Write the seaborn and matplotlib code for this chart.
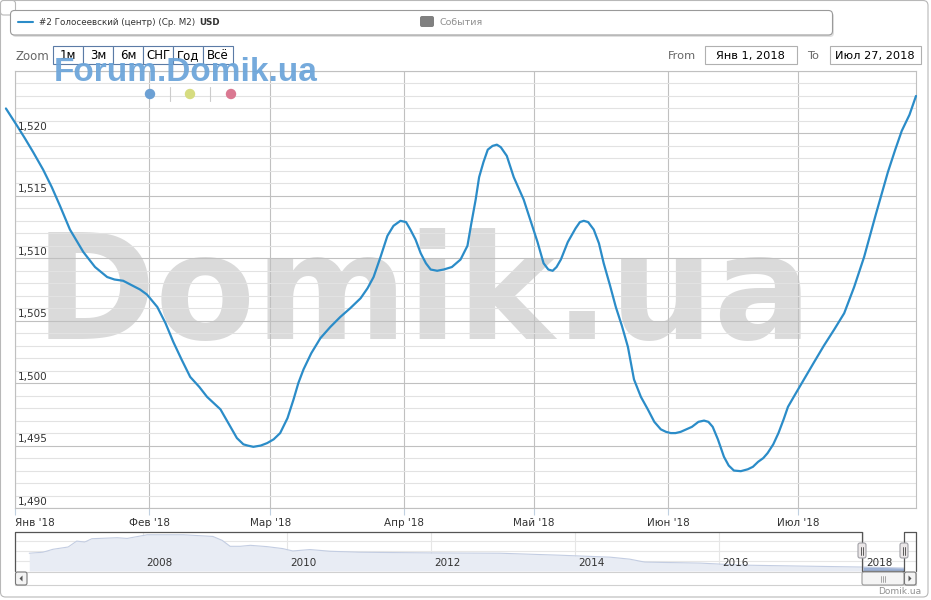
import matplotlib
matplotlib.use("Agg")
import matplotlib.pyplot as plt
import matplotlib.patches as mpatches
import matplotlib.transforms as mtransforms
from matplotlib.lines import Line2D
import numpy as np
import pandas as pd
import seaborn as sns

# days since 1 Jan 2018 and average price (USD per m2)
days = [-2.1, 0.5, 2.3, 4.2, 6.5, 8.5, 10.4, 12.7, 15.8, 18.5, 21.3, 23.0,
        25.0, 28.9, 30.5, 32.9, 34.8, 36.6, 38.5, 40.5, 42.6, 44.4, 47.5,
        49.8, 51.3, 52.8, 53.8, 55.1, 56.8, 58.3, 59.8, 61.3, 63.0, 64.4,
        65.5, 66.7, 68.5, 70.6, 72.9, 75.2, 77.5, 79.9, 81.5, 82.9, 84.5,
        86.1, 87.5, 89.1, 90.4, 91.4, 92.6, 93.8, 95.0, 96.1, 97.6, 99.1,
        101.0, 103.0, 104.6, 105.5, 106.5, 107.3, 108.3, 109.3, 110.4, 111.4,
        112.3, 113.7, 115.3, 117.6, 119.2, 120.8, 122.2, 123.3, 124.3, 125.2,
        126.2, 127.8, 129.6, 130.6, 131.5, 132.5, 133.8, 135.0, 136.1, 137.5,
        138.9, 140.3, 141.7, 143.1, 144.7, 146.3, 147.8, 149.3, 150.5, 151.6,
        152.7, 153.9, 155.2, 156.5, 158.0, 159.3, 160.3, 161.3, 162.5, 163.9,
        165.0, 166.2, 167.8, 169.4, 170.6, 171.8, 173.0, 174.0, 175.3, 176.5,
        177.7, 178.7, 180.2, 182.4, 184.6, 187.0, 189.4, 191.7, 194.0, 196.3,
        199.0, 201.8, 203.5, 205.0, 206.8, 208.3]
price = [1522.0, 1520.6, 1519.6, 1518.5, 1517.1, 1515.7, 1514.2, 1512.3,
         1510.5, 1509.3, 1508.5, 1508.3, 1508.2, 1507.5, 1507.1, 1506.1,
         1504.8, 1503.3, 1501.9, 1500.5, 1499.7, 1498.9, 1497.9, 1496.5,
         1495.6, 1495.1, 1495.0, 1494.9, 1495.0, 1495.2, 1495.5, 1496.0,
         1497.2, 1498.7, 1500.0, 1501.1, 1502.4, 1503.6, 1504.5, 1505.3,
         1506.0, 1506.8, 1507.6, 1508.5, 1510.1, 1511.8, 1512.6, 1513.0,
         1512.9, 1512.3, 1511.5, 1510.4, 1509.6, 1509.1, 1509.0, 1509.1,
         1509.3, 1509.9, 1511.0, 1512.8, 1514.7, 1516.5, 1517.7, 1518.7,
         1519.0, 1519.1, 1518.9, 1518.2, 1516.5, 1514.7, 1513.0, 1511.3,
         1509.6, 1509.1, 1509.0, 1509.3, 1509.9, 1511.3, 1512.4, 1512.9,
         1513.0, 1512.9, 1512.3, 1511.2, 1509.6, 1507.9, 1506.1, 1504.6,
         1502.9, 1500.3, 1498.9, 1497.9, 1496.9, 1496.3, 1496.1, 1496.0,
         1496.0, 1496.1, 1496.3, 1496.5, 1496.9, 1497.0, 1496.9, 1496.5,
         1495.5, 1494.1, 1493.4, 1493.0, 1492.95, 1493.1, 1493.3, 1493.7,
         1494.0, 1494.4, 1495.1, 1496.0, 1497.1, 1498.1, 1499.0, 1500.3,
         1501.6, 1503.0, 1504.3, 1505.6, 1507.7, 1510.1, 1513.5, 1516.9,
         1518.7, 1520.2, 1521.5, 1523.0]

month_labels = ["Янв '18", "Фев '18", "Мар '18", "Апр '18", "Май '18", "Июн '18", "Июл '18"]
yticks = [1490, 1495, 1500, 1505, 1510, 1515, 1520, 1525]

# navigator: whole history
nav_years = [2006.42, 2006.61, 2006.75, 2006.96, 2007.08, 2007.19, 2007.29,
             2007.64, 2007.78, 2008.06, 2008.56, 2008.97, 2009.10, 2009.21,
             2009.35, 2009.49, 2009.72, 2009.94, 2010.08, 2010.32, 2010.60,
             2011.00, 2012.00, 2012.96, 2013.79, 2014.49, 2014.76, 2014.97,
             2015.74, 2016.29, 2017.13, 2018.00, 2018.57]
nav_price = [2120, 2160, 2280, 2372, 2612, 2572, 2708, 2748, 2720, 2868, 2868,
             2800, 2640, 2400, 2400, 2440, 2388, 2308, 2212, 2268, 2200, 2160,
             2132, 2120, 2040, 1960, 1880, 1760, 1720, 1640, 1600, 1560, 1520]
nav_labels = [2008, 2010, 2012, 2014, 2016, 2018]

zoom_buttons = ["1м", "3м", "6м", "СНГ", "Год", "Всё"]
legend_text = "#2 Голосеевский (центр) (Ср. М2)"

W, H = 931, 600
LINE = "#2b8cc8"

sns.set_theme(style="white")
plt.rcParams["font.family"] = ["DejaVu Sans"]

fig = plt.figure(figsize=(W / 100, H / 100), dpi=100)
fig.patch.set_facecolor("white")
PX = mtransforms.Affine2D().scale(1 / W, -1 / H).translate(0, 1) + fig.transFigure


def box(x0, y0, x1, y1):
    return [x0 / W, 1 - y1 / H, (x1 - x0) / W, (y1 - y0) / H]


def rbox(x, y, w, h, r, **kw):
    p = mpatches.FancyBboxPatch((x, y), w, h, boxstyle=f"round,pad=0,rounding_size={r}",
                                transform=PX, **kw)
    fig.add_artist(p)
    return p


def ptext(x, y, s, **kw):
    kw.setdefault("zorder", 20)
    return fig.text(x, y, s, transform=PX, **kw)


# ---------------------- frame + legend ----------------------
rbox(0.5, 0.5, 927.5, 596.5, 5, facecolor="none", edgecolor="#b8b8b8", lw=0.8, zorder=1)
rbox(0.5, 0.5, 15, 14.5, 3, facecolor="white", edgecolor="#b8b8b8", lw=0.8, zorder=2)
rbox(12, 12.5, 822, 24.5, 4, facecolor="#000000", edgecolor="none", alpha=0.12, zorder=2)
rbox(10.5, 10.5, 822, 24.5, 4, facecolor="white", edgecolor="#9a9a9a", lw=0.8, zorder=3)
fig.add_artist(Line2D([18, 33], [22, 22], transform=PX, color=LINE, lw=1.5, zorder=4))
leg = ptext(39, 22.5, legend_text, fontsize=6.3, color="#333333", va="center")
renderer = fig.canvas.get_renderer()
leg_right = leg.get_window_extent(renderer).x1  # display px, same as image px at dpi 100
ptext(leg_right + 3.5, 22.5, "USD", fontsize=6.3, color="#333333", va="center",
      fontweight="bold")
rbox(420, 16, 14, 11, 2, facecolor="#808080", edgecolor="none", zorder=4)
ptext(439, 22.5, "События", fontsize=6.8, color="#909090", va="center")

# ---------------------- range selector ----------------------
ptext(15, 56, "Zoom", fontsize=8.5, color="#666666", va="center")
for i, lab in enumerate(zoom_buttons):
    x0 = 53 + i * 30
    fig.add_artist(mpatches.Rectangle((x0, 46), 30, 18, transform=PX, facecolor="white",
                                      edgecolor="#5b7ba6", lw=0.8, zorder=4))
    ptext(x0 + 15, 55.5, lab, fontsize=8.5, color="#000000", ha="center", va="center", zorder=5)

ptext(668, 56, "From", fontsize=8.2, color="#666666", va="center")
fig.add_artist(mpatches.Rectangle((704.5, 46), 92, 18, transform=PX, facecolor="white",
                                  edgecolor="#b0b0b0", lw=0.8, zorder=4))
ptext(750.5, 55.5, "Янв 1, 2018", fontsize=8.2, color="#000000", ha="center", va="center")
ptext(807, 56, "To", fontsize=8.2, color="#666666", va="center")
fig.add_artist(mpatches.Rectangle((829.5, 46), 91, 18, transform=PX, facecolor="white",
                                  edgecolor="#b0b0b0", lw=0.8, zorder=4))
ptext(875, 55.5, "Июл 27, 2018", fontsize=8.2, color="#000000", ha="center", va="center")

# ---------------------- main chart ----------------------
start = pd.Timestamp("2018-01-01")
df = pd.DataFrame({"date": start + pd.to_timedelta(days, unit="D"), "price": price})

ax = fig.add_axes(box(15, 71, 916, 508))
ax.set_facecolor("white")
sns.lineplot(data=df, x="date", y="price", ax=ax, color=LINE, linewidth=1.6, zorder=3)
ax.lines[-1].set_clip_on(False)
ax.lines[-1].set_solid_joinstyle("round")

ax.set_xlim(start, start + pd.Timedelta(days=208.3))
ax.set_ylim(1490, 1525)
month_starts = pd.date_range("2018-01-01", periods=7, freq="MS")
ax.set_xticks(month_starts)
ax.set_xticklabels(month_labels)
ax.get_xticklabels()[0].set_horizontalalignment("left")
ax.set_yticks(yticks)
ax.set_yticks(np.arange(1490, 1526, 1), minor=True)
ax.tick_params(axis="y", which="both", length=0, labelleft=False)
ax.tick_params(axis="x", which="major", length=5, width=0.8, color="#c0d0e0",
               labelsize=7.5, labelcolor="#333333", pad=2, bottom=True)
ax.grid(True, which="major", color="#c0c0c0", lw=0.8)
ax.grid(True, which="minor", axis="y", color="#e2e2e2", lw=0.8)
ax.set_axisbelow(True)
for s in ax.spines.values():
    s.set_color("#c0c0c0")
    s.set_linewidth(0.8)
ax.set_xlabel("")
ax.set_ylabel("")

for v in yticks[:-1]:
    ax.text(2.5 / 901, v + 0.12, f"{v:,}", transform=ax.get_yaxis_transform(),
            ha="left", va="bottom", fontsize=7.5, color="#333333", zorder=4)

# watermarks
ax.text(424, 339, "Domik.ua", transform=PX, fontsize=105, fontweight="bold",
        color="#dadada", ha="center", va="baseline", zorder=0.1)
ptext(54, 81, "Forum.Domik.ua", fontsize=24, fontweight="bold", color="#6ea6da",
      family="Liberation Sans", va="baseline", alpha=0.95, zorder=30)
for cx, col in [(150, "#6ca0d4"), (190, "#d6dc80"), (231, "#da7891")]:
    fig.add_artist(mpatches.Circle((cx, 94), 5.2, transform=PX, facecolor=col,
                                   edgecolor="none", zorder=30))
for sx in (170, 210):
    fig.add_artist(Line2D([sx, sx], [87, 101], transform=PX, color="#cccccc", lw=0.8, zorder=30))

# ---------------------- navigator ----------------------
ny = np.array(nav_years)
npr = np.array(nav_price)
nav = fig.add_axes(box(15, 531.5, 916, 571))
nav.set_facecolor("white")
nav.fill_between(ny, npr, 1400, color="#e8ecf4", lw=0, zorder=2)
sns.lineplot(x=ny, y=npr, ax=nav, color="#c3cde2", linewidth=0.8, zorder=3)
sel = ny >= 2018.0
nav.fill_between(ny[sel], npr[sel], 1400, color="#9db1d5", lw=0, zorder=4)
nav.set_xlim(2006.222, 2018.736)
nav.set_ylim(1400, 3000)
nav.set_xticks(nav_labels)
nav.set_yticks([1800, 2200, 2600])
nav.grid(True, color="#e6e6e6", lw=0.8)
nav.set_axisbelow(True)
nav.tick_params(left=False, bottom=False, labelleft=False, labelbottom=False)
for s in nav.spines.values():
    s.set_visible(False)
for yr in nav_labels:
    nav.text(yr + 0.04, 0.2, str(yr), transform=nav.get_xaxis_transform(),
             fontsize=7.5, color="#333333", va="center", ha="left", zorder=6)

# outline + handles
fig.add_artist(Line2D([15, 15, 862, 862, 904, 904, 916, 916],
                      [571, 531.5, 531.5, 571, 571, 531.5, 531.5, 571],
                      transform=PX, color="#555555", lw=0.9, zorder=10))
for hx in (862, 904):
    rbox(hx - 4, 543, 8, 15, 2, facecolor="#ebe7e8", edgecolor="#a0a0a6", lw=0.8, zorder=11)
    for gx in (hx - 1.2, hx + 1.2):
        fig.add_artist(Line2D([gx, gx], [546.5, 554.5], transform=PX, color="#444444",
                              lw=0.6, zorder=12))

# scrollbar
fig.add_artist(mpatches.Rectangle((15, 572), 901, 13, transform=PX, facecolor="white",
                                  edgecolor="#d0d0d0", lw=0.8, zorder=10))
rbox(15.5, 572, 11.5, 13, 2, facecolor="#f4f4f4", edgecolor="#777777", lw=0.8, zorder=11)
rbox(862, 572, 42, 13, 2, facecolor="#f4f4f4", edgecolor="#9a9a9a", lw=0.8, zorder=11)
rbox(904.5, 572, 11.5, 13, 2, facecolor="#f4f4f4", edgecolor="#777777", lw=0.8, zorder=11)
fig.add_artist(mpatches.Polygon([(22.5, 575.5), (22.5, 581.5), (19.5, 578.5)], transform=PX,
                                facecolor="#555555", edgecolor="none", zorder=12))
fig.add_artist(mpatches.Polygon([(908.5, 575.5), (908.5, 581.5), (911.5, 578.5)], transform=PX,
                                facecolor="#555555", edgecolor="none", zorder=12))
for gx in (880.5, 882.5, 884.5):
    fig.add_artist(Line2D([gx, gx], [575.5, 581.5], transform=PX, color="#999999",
                          lw=0.6, zorder=12))

ptext(921, 591, "Domik.ua", fontsize=6.5, color="#909090", ha="right", va="center")

fig.savefig("out.png", dpi=100)
